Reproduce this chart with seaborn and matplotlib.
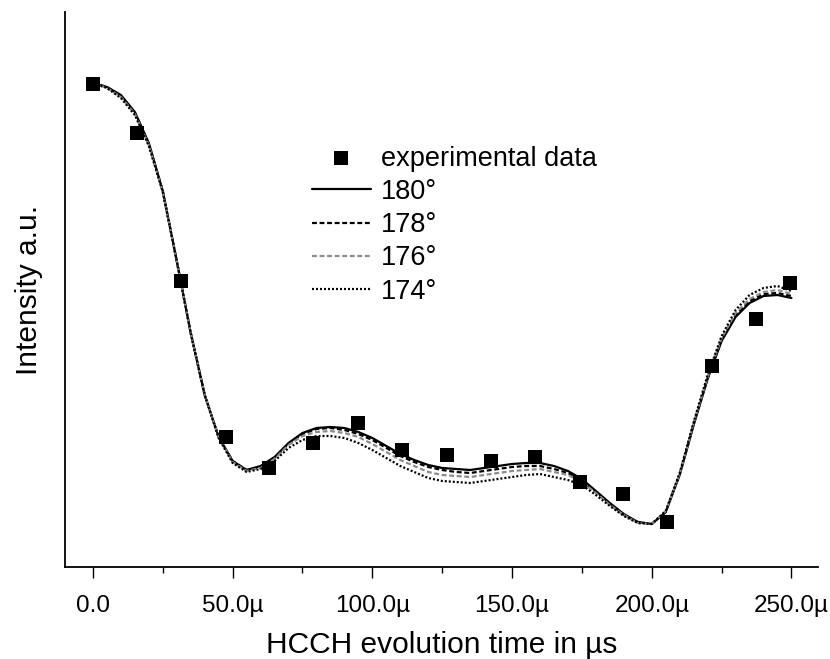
import numpy as np
import pandas as pd
import matplotlib
matplotlib.use("Agg")
import matplotlib.pyplot as plt
import seaborn as sns

# ---- data (intensity in arbitrary units) ----
exp_time = [0, 15.7, 31.5, 47.6, 63.0, 78.7, 94.8, 110.6, 126.6, 142.4,
            158.2, 174.3, 189.7, 205.5, 221.5, 237.3, 249.5]
exp_intensity = [483, 434, 286, 130, 99, 124, 144, 117, 112, 106,
                 110, 85, 73, 45, 201, 248, 284]

sim_time = [0, 5, 10, 15, 20, 25, 30, 35, 40, 45, 50, 55, 60, 65, 70, 75, 80,
            85, 90, 95, 100, 105, 110, 115, 120, 125, 130, 135, 140, 145, 150,
            155, 160, 165, 170, 175, 180, 185, 190, 195, 200, 205, 210, 215,
            220, 225, 230, 235, 240, 245, 250]
sim_180 = [484, 480, 472, 455, 424, 376, 306, 234, 172, 130, 106, 97, 101, 110,
           124, 134, 139, 140, 139, 135, 129, 121, 113, 107, 102, 99, 98, 97,
           99, 101, 103, 104, 104, 101, 96, 88, 76, 64, 53, 45, 43, 55, 92,
           142, 188, 226, 250, 264, 271, 272, 269]
sim_178 = [484, 480, 471, 454, 423, 376, 306, 234, 172, 130, 106, 97, 100, 109,
           123, 133, 138, 139, 137, 133, 127, 119, 111, 105, 100, 97, 95, 94,
           96, 98, 100, 101, 101, 98, 94, 86, 75, 63, 52, 45, 43, 55, 93,
           143, 189, 227, 252, 266, 273, 274, 271]
sim_176 = [484, 479, 470, 453, 422, 375, 306, 234, 172, 130, 105, 96, 99, 108,
           122, 131, 135, 136, 134, 130, 123, 115, 107, 101, 95, 92, 91, 90,
           92, 94, 96, 97, 98, 95, 92, 85, 74, 62, 52, 44, 43, 56, 93,
           144, 190, 229, 254, 268, 275, 277, 273]
sim_174 = [484, 479, 469, 452, 421, 375, 306, 234, 172, 129, 104, 95, 98, 106,
           119, 127, 131, 131, 129, 124, 117, 109, 101, 95, 89, 86, 85, 84,
           86, 88, 90, 92, 93, 90, 87, 82, 72, 61, 51, 44, 43, 56, 94,
           145, 192, 231, 257, 272, 279, 281, 276]

tick_values = [0, 50, 100, 150, 200, 250]
tick_labels = ["0.0", "50.0\u00b5", "100.0\u00b5", "150.0\u00b5", "200.0\u00b5", "250.0\u00b5"]
minor_ticks = [25, 75, 125, 175, 225]

series_labels = ["180\u00b0", "178\u00b0", "176\u00b0", "174\u00b0"]

# ---- style ----
sns.set_style("ticks")
plt.rcParams["font.family"] = ["Liberation Sans", "DejaVu Sans"]
plt.rcParams["text.color"] = "black"
plt.rcParams["axes.labelcolor"] = "black"
plt.rcParams["xtick.color"] = "black"
plt.rcParams["ytick.color"] = "black"

fig = plt.figure(figsize=(8.3, 6.59), dpi=100)
ax = fig.add_axes([65 / 830, 92 / 659, 753 / 830, 555 / 659])

exp_df = pd.DataFrame({"t": exp_time, "I": exp_intensity})
sns.scatterplot(data=exp_df, x="t", y="I", marker="s", s=110, color="black",
                edgecolor="black", linewidth=0, ax=ax, label="experimental data",
                zorder=3)

styles = [
    dict(color="black", linestyle="-"),
    dict(color="black", linestyle=(0, (2.2, 1.2))),
    dict(color="#8c8c8c", linestyle=(0, (2.2, 1.2))),
    dict(color="black", linestyle=(0, (0.9, 0.9))),
]
for vals, lab, st in zip([sim_180, sim_178, sim_176, sim_174], series_labels, styles):
    df = pd.DataFrame({"t": sim_time, "I": vals})
    sns.lineplot(data=df, x="t", y="I", ax=ax, label=lab, linewidth=1.6, **st)

ax.set_xlim(-10, 259.5)
ax.set_ylim(0, 555)
ax.set_xticks(tick_values)
ax.set_xticklabels(tick_labels, fontsize=17.5)
ax.set_xticks(minor_ticks, minor=True)
ax.set_yticks([])
ax.tick_params(axis="x", which="major", length=8, width=1.0, direction="out", pad=12, color="black")
ax.tick_params(axis="x", which="minor", length=4, width=1.0, direction="out", color="black")
for s in ["top", "right"]:
    ax.spines[s].set_visible(False)
for s in ["left", "bottom"]:
    ax.spines[s].set_linewidth(1.3)
    ax.spines[s].set_color("black")

ax.set_xlabel("HCCH evolution time in \u00b5s", fontsize=21.5, labelpad=10)
ax.set_ylabel("Intensity a.u.", fontsize=21.5, labelpad=16)

leg = ax.legend(loc="upper left", bbox_to_anchor=(298 / 830, 1 - 132 / 659),
                bbox_transform=fig.transFigure, frameon=False, fontsize=19.5,
                borderpad=0, handlelength=2.2, handletextpad=0.35,
                labelspacing=0.27, markerscale=0.9)

fig.savefig("out.png", dpi=100)
